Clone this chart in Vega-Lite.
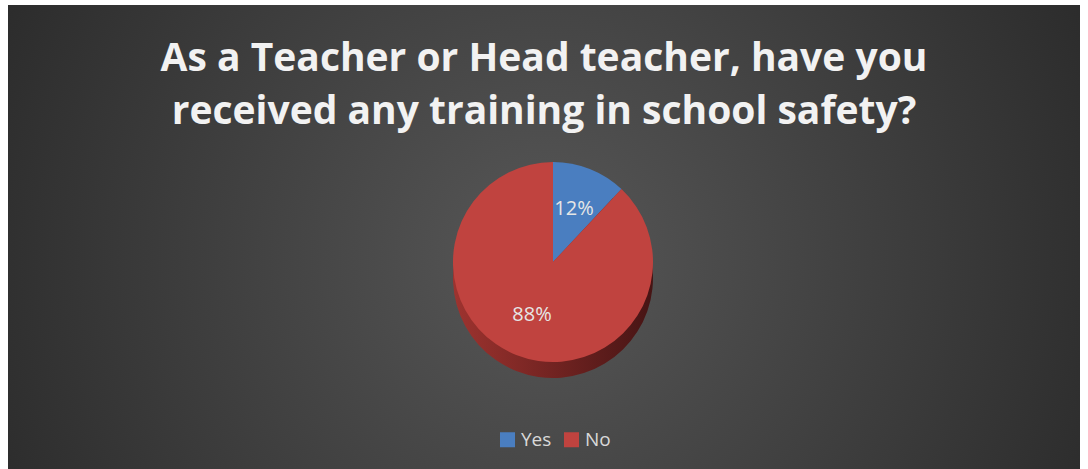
{
  "$schema": "https://vega.github.io/schema/vega-lite/v6.json",
  "width": 1088,
  "height": 469,
  "autosize": {"type": "fit", "contains": "padding"},
  "padding": {"left": 8, "top": 5, "right": 8, "bottom": 0},
  "background": "white",
  "title": {
    "text": ["As a Teacher or Head teacher, have you", "received any training in school safety?"],
    "orient": "top",
    "anchor": "middle",
    "frame": "group",
    "offset": -127,
    "font": "Open Sans",
    "fontWeight": "bold",
    "fontSize": 39,
    "lineHeight": 53,
    "color": "#f2f2f2"
  },
  "config": {"view": {"stroke": null}},
  "data": {
    "values": [
      {"answer": "Yes", "percent": 12, "label": "12%"},
      {"answer": "No", "percent": 88, "label": "88%"}
    ]
  },
  "layer": [
    {
      "mark": {
        "type": "rect",
        "fill": {
          "gradient": "radial",
          "x1": 0.5, "y1": 0.52, "r1": 0,
          "x2": 0.5, "y2": 0.52, "r2": 0.62,
          "stops": [
            {"offset": 0, "color": "#575757"},
            {"offset": 1, "color": "#272727"}
          ]
        }
      },
      "encoding": {}
    },
    {
      "mark": {
        "type": "arc",
        "outerRadius": 100,
        "xOffset": 9,
        "yOffset": 41,
        "fill": {
          "gradient": "linear",
          "x1": 0, "y1": 0.5, "x2": 1, "y2": 0.5,
          "stops": [
            {"offset": 0, "color": "#9e332f"},
            {"offset": 1, "color": "#461414"}
          ]
        }
      },
      "encoding": {
        "theta": {"field": "percent", "type": "quantitative", "stack": true},
        "order": {"field": "answer", "sort": "descending"}
      }
    },
    {
      "mark": {"type": "arc", "outerRadius": 100, "xOffset": 9, "yOffset": 25},
      "encoding": {
        "theta": {"field": "percent", "type": "quantitative", "stack": true},
        "order": {"field": "answer", "sort": "descending"},
        "color": {
          "field": "answer",
          "type": "nominal",
          "scale": {"domain": ["Yes", "No"], "range": ["#4a7ec0", "#c0433f"]},
          "legend": {
            "title": null,
            "orient": "none",
            "direction": "horizontal",
            "legendX": 490,
            "legendY": 425,
            "symbolType": "square",
            "symbolSize": 225,
            "symbolStrokeWidth": 0,
            "labelFont": "Open Sans",
            "labelFontSize": 19,
            "labelColor": "#d9d9d9",
            "columnPadding": 10,
            "labelOffset": 4
          }
        }
      }
    },
    {
      "mark": {"type": "text", "radius": 57, "xOffset": 9, "yOffset": 25, "font": "Open Sans", "fontSize": 20, "color": "#e6e6e6"},
      "encoding": {
        "theta": {"field": "percent", "type": "quantitative", "stack": true},
        "order": {"field": "answer", "sort": "descending"},
        "text": {"field": "label", "type": "nominal"}
      }
    }
  ]
}
